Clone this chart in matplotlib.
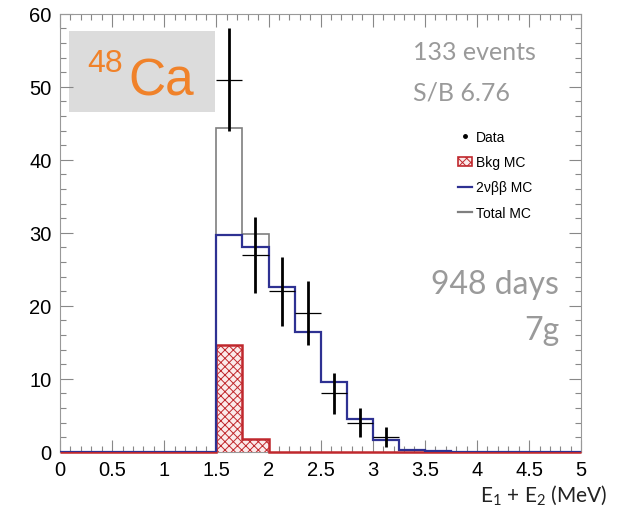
import numpy as np
import matplotlib
matplotlib.use('Agg')
import matplotlib.pyplot as plt
from matplotlib.lines import Line2D
from matplotlib.patches import Patch

plt.rcParams['font.family'] = ['Liberation Sans', 'DejaVu Sans']
plt.rcParams['mathtext.fontset'] = 'custom'
plt.rcParams['mathtext.rm'] = 'Lato'
plt.rcParams['hatch.linewidth'] = 0.7

# histogram binning (MeV), 0.25 MeV bins
bin_edges = np.arange(0, 5.25, 0.25)

# 2vbb MC and background MC per bin
signal_mc = [0, 0, 0, 0, 0, 0, 29.7, 28.0, 22.6, 16.4, 9.6, 4.5, 1.6, 0.3, 0.1, 0, 0, 0, 0, 0]
bkg_mc = [0, 0, 0, 0, 0, 0, 14.7, 1.8, 0, 0, 0, 0, 0, 0, 0, 0, 0, 0, 0, 0]

# data points (bin centres)
data_x = [1.625, 1.875, 2.125, 2.375, 2.625, 2.875, 3.125]
data_y = [51, 27, 22, 19, 8, 4, 2]
data_err = [7.1, 5.2, 4.7, 4.4, 2.8, 2.0, 1.4]

signal_mc = np.array(signal_mc)
bkg_mc = np.array(bkg_mc)
total_mc = signal_mc + bkg_mc

fig = plt.figure(figsize=(6.19, 5.10), dpi=100)
ax = fig.add_axes([0.097, 0.112, 0.842, 0.859])

red = '#C0282D'
blue = '#2E3192'
grey_line = '#7F7F7F'

ax.stairs(total_mc, bin_edges, color=grey_line, lw=1.2, zorder=2)
ax.bar(bin_edges[:-1], bkg_mc, width=0.25, align='edge', facecolor='#FBEAEA',
       edgecolor=red, hatch='xxxx', lw=0, zorder=3)
ax.stairs(bkg_mc, bin_edges, color=red, lw=1.8, zorder=4, clip_on=False)
ax.stairs(signal_mc, bin_edges, color=blue, lw=1.6, zorder=5)

ax.errorbar(data_x, data_y, yerr=data_err, fmt='none', ecolor='black', elinewidth=2.0, zorder=6)
ax.errorbar(data_x, data_y, xerr=0.125, fmt='none', ecolor='black', elinewidth=0.9, zorder=6)

ax.set_xlim(0, 5)
ax.set_ylim(0, 60)
ax.set_xticks(np.arange(0, 5.5, 0.5))
ax.set_xticklabels(['0', '0.5', '1', '1.5', '2', '2.5', '3', '3.5', '4', '4.5', '5'])
ax.set_xticks(np.arange(0, 5.01, 0.1), minor=True)
ax.set_yticks(np.arange(0, 70, 10))
ax.set_yticks(np.arange(0, 61, 2), minor=True)
ax.tick_params(which='both', direction='in', top=True, right=True, color='#888888',
               labelsize=14.5, width=0.8)
ax.tick_params(which='major', length=9, pad=6)
ax.tick_params(which='minor', length=4)
ax.tick_params(axis='y', labelright=False)
for s in ax.spines.values():
    s.set_color('#999999')
    s.set_linewidth(0.8)

# isotope label box
ax.fill_between([0.086, 1.49], 46.6, 57.7, color='#DCDCDC', lw=0, zorder=1)
ax.text(0.26, 53.2, '48', color='#F0822A', fontsize=23, ha='left', va='center', zorder=7)
ax.text(0.655, 49.0, 'Ca', color='#F0822A', fontsize=37, ha='left', va='baseline', zorder=7)

grey_txt = '#9A9A9A'
ax.text(3.39, 53.8, '133 events', color=grey_txt, fontsize=18, family='Lato', va='baseline')
ax.text(3.39, 48.3, 'S/B 6.76', color=grey_txt, fontsize=18, family='Lato', va='baseline')
ax.text(4.79, 21.7, '948 days', color=grey_txt, fontsize=23, family='Lato', va='baseline', ha='right')
ax.text(4.79, 15.5, '7g', color=grey_txt, fontsize=23, family='Lato', va='baseline', ha='right')

handles = [
    Line2D([], [], marker='.', color='black', ls='none', markersize=5),
    Patch(facecolor='#FBEAEA', edgecolor=red, hatch='xxxx', lw=1.2),
    Line2D([], [], color=blue, lw=1.6),
    Line2D([], [], color=grey_line, lw=1.6),
]
labels = ['Data', 'Bkg MC', '2νββ MC', 'Total MC']
ax.legend(handles, labels, loc='upper left', bbox_to_anchor=(0.75, 0.75), frameon=False,
          fontsize=10, handlelength=1.0, handletextpad=0.3, labelspacing=0.8, borderpad=0)

fig.text(0.982, 0.052, r'E$_1$ + E$_2$ (MeV)', ha='right', va='top', fontsize=15,
         family='Lato', color='#222222')

fig.savefig('out.png', dpi=100)
